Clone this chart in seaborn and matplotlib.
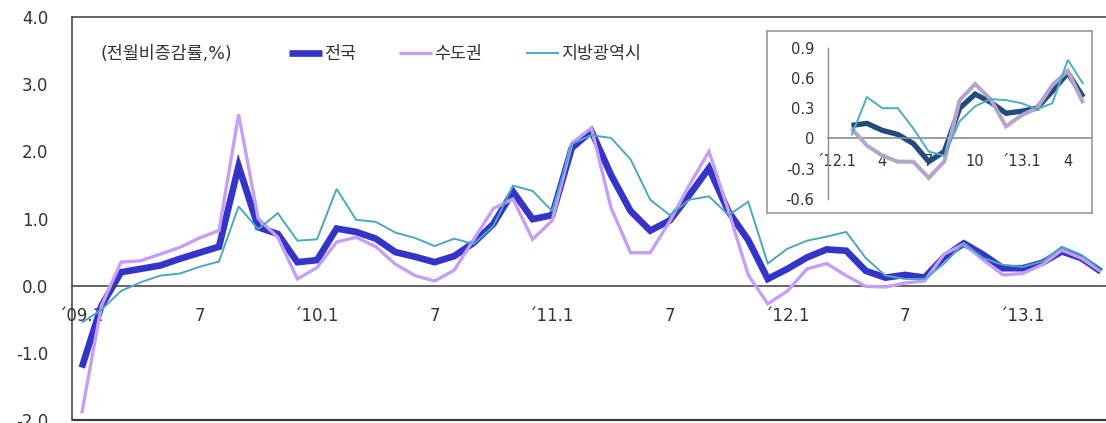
import numpy as np
import pandas as pd
import matplotlib
matplotlib.use("Agg")
import matplotlib.pyplot as plt
from matplotlib.ticker import FixedLocator, NullFormatter
import seaborn as sns

# Monthly change vs. previous month (%), 2009.1 - 2013.5
months = pd.period_range("2009-01", "2013-05", freq="M")

nationwide = [-1.22, -0.30, 0.20, 0.25, 0.30, 0.40, 0.49, 0.58, 1.78, 0.87,
              0.77, 0.35, 0.38, 0.85, 0.80, 0.70, 0.50, 0.43, 0.35, 0.44,
              0.64, 0.92, 1.40, 0.99, 1.05, 2.05, 2.30, 1.65, 1.11, 0.82,
              0.97, 1.35, 1.75, 1.10, 0.68, 0.10, 0.25, 0.42, 0.54, 0.52,
              0.22, 0.12, 0.16, 0.12, 0.43, 0.63, 0.46, 0.26, 0.26, 0.34,
              0.51, 0.41, 0.21]
capital_area = [-1.90, -0.30, 0.35, 0.37, 0.47, 0.57, 0.71, 0.82, 2.55, 1.00,
                0.72, 0.10, 0.27, 0.65, 0.72, 0.58, 0.32, 0.15, 0.07, 0.23,
                0.69, 1.15, 1.29, 0.69, 0.97, 2.12, 2.35, 1.16, 0.49, 0.49,
                0.96, 1.50, 2.00, 1.11, 0.16, -0.27, -0.08, 0.25, 0.33, 0.15,
                -0.01, -0.02, 0.04, 0.07, 0.47, 0.62, 0.38, 0.16, 0.18, 0.31,
                0.53, 0.41, 0.21]
metro_cities = [-0.55, -0.36, -0.08, 0.05, 0.15, 0.18, 0.28, 0.36, 1.18, 0.84,
                1.08, 0.67, 0.69, 1.44, 0.98, 0.95, 0.79, 0.71, 0.59, 0.70,
                0.62, 0.89, 1.49, 1.41, 1.11, 2.11, 2.24, 2.20, 1.88, 1.28,
                1.05, 1.28, 1.33, 1.05, 1.25, 0.33, 0.55, 0.67, 0.73, 0.80,
                0.41, 0.15, 0.10, 0.10, 0.33, 0.63, 0.41, 0.31, 0.28, 0.36,
                0.58, 0.46, 0.23]
main_tick_labels = ["´09.1", "7", "´10.1", "7", "´11.1", "7", "´12.1", "7", "´13.1"]

# Inset: 2012.1 - 2013.5 (no value for 2012.1)
inset_months = pd.period_range("2012-01", "2013-05", freq="M")
inset_nationwide = [np.nan, 0.13, 0.15, 0.08, 0.04, -0.05, -0.23, -0.13, 0.30,
                    0.44, 0.36, 0.25, 0.27, 0.30, 0.47, 0.65, 0.41]
inset_capital = [np.nan, 0.10, -0.07, -0.17, -0.23, -0.23, -0.39, -0.23, 0.38,
                 0.54, 0.39, 0.12, 0.23, 0.30, 0.53, 0.67, 0.35]
inset_metro = [np.nan, 0.03, 0.41, 0.30, 0.30, 0.10, -0.13, -0.17, 0.17,
               0.32, 0.39, 0.38, 0.35, 0.29, 0.35, 0.78, 0.54]
inset_tick_labels = ["´12.1", "4", "7", "10", "´13.1", "4"]

series_names = ["전국", "수도권", "지방광역시"]

sns.set_style("white")
plt.rcParams["font.family"] = ["DejaVu Sans", "Noto Sans CJK KR"]
plt.rcParams["axes.unicode_minus"] = False
plt.rcParams["lines.solid_capstyle"] = "butt"

W, H = 1106, 423
fig = plt.figure(figsize=(W / 100, H / 100), dpi=100)
fig.patch.set_facecolor("white")

def px_box(x0, y0, x1, y1):
    return [x0 / W, 1 - y1 / H, (x1 - x0) / W, (y1 - y0) / H]

frame_col = "#3a3a3a"
text_col = "#333333"

# ---------------- main chart ----------------
ax = fig.add_axes(px_box(72, 17, 1110.8, 420))
x = np.arange(len(months))
main_styles = [("#3434c8", 4.8, 2), ("#c79ef6", 2.4, 3), ("#4aa9bf", 1.4, 4)]
for name, vals, (col, lw, z) in zip(series_names,
                                     [nationwide, capital_area, metro_cities],
                                     main_styles):
    sns.lineplot(x=x, y=vals, ax=ax, color=col, linewidth=lw, label=name,
                 zorder=z, solid_joinstyle="miter", solid_capstyle="butt")

ax.set_xlim(-0.5, len(months) - 0.5)
ax.set_ylim(-2.0, 4.0)
ax.set_xlabel("")
ax.set_ylabel("")

for s in ["top", "left", "right"]:
    ax.spines[s].set_color(frame_col)
    ax.spines[s].set_linewidth(1.1)
ax.spines["bottom"].set_position(("data", 0))
ax.spines["bottom"].set_color(frame_col)
ax.spines["bottom"].set_linewidth(1.1)
ax.axhline(-2.0, color=frame_col, linewidth=1.6, clip_on=False, zorder=5)

ax.set_yticks(np.arange(-2, 4.01, 1.0))
ax.set_yticklabels([f"{v:.1f}" for v in np.arange(-2, 4.01, 1.0)])
ax.tick_params(axis="y", direction="in", length=3, width=1, color=frame_col,
               pad=17, labelsize=12, labelcolor=text_col)

ax.set_xticks(np.arange(0, len(months), 6))
ax.set_xticklabels(main_tick_labels)
ax.xaxis.set_minor_locator(FixedLocator(np.arange(0.5, len(months), 1.0)))
ax.xaxis.set_minor_formatter(NullFormatter())
ax.tick_params(axis="x", which="major", length=0, pad=15, labelsize=12,
               labelcolor=text_col)
ax.tick_params(axis="x", which="minor", direction="in", length=4, width=1,
               color=frame_col)

ax.text((100 - 72) / 1038.8, (420 - 54) / 403, "(전월비증감률,%)",
        transform=ax.transAxes, ha="left", va="center", fontsize=12.5,
        color=text_col)
leg = ax.legend(loc="center left", bbox_to_anchor=((280 - 72) / 1038.8, (420 - 54) / 403),
                ncol=3, frameon=False, borderpad=0, handlelength=1.9,
                handletextpad=0.12, columnspacing=2.5, fontsize=12.5)
for t in leg.get_texts():
    t.set_color(text_col)
for h in leg.legend_handles:
    h.set_solid_capstyle("butt")

# ---------------- inset ----------------
frame_ax = fig.add_axes(px_box(767, 31, 1092, 213))
frame_ax.set_xticks([])
frame_ax.set_yticks([])
frame_ax.set_facecolor("white")
for s in frame_ax.spines.values():
    s.set_color("#9a9a9a")
    s.set_linewidth(1.2)
frame_ax.set_zorder(10)

inset_col = "#8c8c8c"
iax = fig.add_axes(px_box(828.3, 47.7, 1091.0, 199.0))
iax.set_zorder(11)
iax.patch.set_alpha(0)
xi = np.arange(len(inset_months))
inset_styles = [("#234a7c", 3.8, 2), ("#b4a5cb", 2.9, 3), ("#4aaec4", 1.4, 4)]
for name, vals, (col, lw, z) in zip(series_names,
                                     [inset_nationwide, inset_capital, inset_metro],
                                     inset_styles):
    sns.lineplot(x=xi, y=vals, ax=iax, color=col, linewidth=lw, zorder=z,
                 legend=False, solid_joinstyle="miter", solid_capstyle="butt")

iax.set_xlim(-0.5, len(inset_months) - 0.5)
iax.set_ylim(-0.6, 0.9)
iax.set_xlabel("")
iax.set_ylabel("")
for s in ["top", "right"]:
    iax.spines[s].set_visible(False)
iax.spines["left"].set_color(inset_col)
iax.spines["left"].set_linewidth(1.0)
iax.spines["bottom"].set_position(("data", 0))
iax.spines["bottom"].set_color(inset_col)
iax.spines["bottom"].set_linewidth(1.2)

iax.set_yticks([-0.6, -0.3, 0, 0.3, 0.6, 0.9])
iax.set_yticklabels(["-0.6", "-0.3", "0", "0.3", "0.6", "0.9"])
iax.tick_params(axis="y", direction="out", length=3, width=1, color=inset_col,
                pad=7, labelsize=10.5, labelcolor=text_col)
iax.set_xticks(np.arange(0, len(inset_months), 3))
iax.set_xticklabels(inset_tick_labels)
iax.xaxis.set_minor_locator(FixedLocator(np.arange(2.5, len(inset_months), 3.0)))
iax.xaxis.set_minor_formatter(NullFormatter())
iax.tick_params(axis="x", which="major", length=0, pad=11, labelsize=10.5,
                labelcolor=text_col)
iax.tick_params(axis="x", which="minor", direction="out", length=5, width=1,
                color=inset_col)

fig.savefig("out.png", dpi=100, facecolor="white")
